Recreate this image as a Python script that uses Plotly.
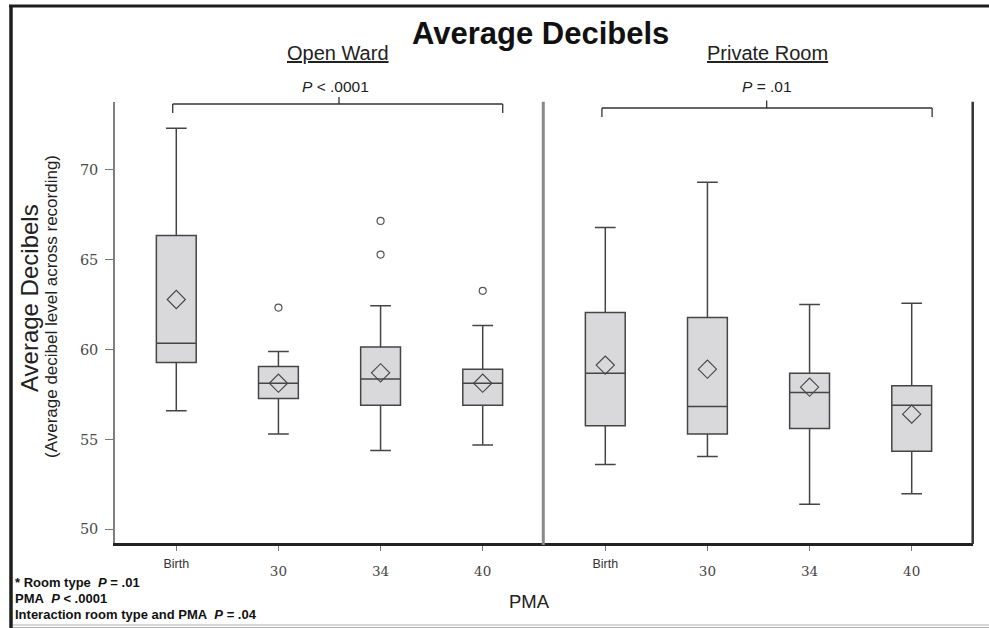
import plotly.graph_objects as go

# ---------------- data ----------------
categories = ["Birth", "30", "34", "40"]

open_q1 = [59.28, 57.28, 56.91, 56.91]
open_median = [60.36, 58.13, 58.36, 58.13]
open_q3 = [66.35, 59.06, 60.14, 58.91]
open_lower = [56.60, 55.30, 54.39, 54.69]
open_upper = [72.32, 59.90, 62.44, 61.34]
open_mean = [62.79, 58.13, 58.71, 58.13]
open_outlier_cat = ["30", "34", "34", "40"]
open_outlier_val = [62.34, 67.16, 65.29, 63.27]

private_q1 = [55.76, 55.30, 55.61, 54.35]
private_median = [58.69, 56.84, 57.62, 56.91]
private_q3 = [62.06, 61.79, 58.69, 57.99]
private_lower = [53.61, 54.06, 51.39, 51.98]
private_upper = [66.79, 69.31, 62.51, 62.58]
private_mean = [59.14, 58.91, 57.91, 56.41]

y_ticks = [50, 55, 60, 65, 70]

# ---------------- layout helpers ----------------
W, H = 989, 628
L, R, T, B = 115, 16, 102, 85
PW, PH = W - L - R, H - T - B
PANEL_GAP = 4.2
open_x = [i for i in range(len(categories))]
priv_x = [i + PANEL_GAP for i in range(len(categories))]
XR = [-0.6, 7.8]
YR = [49.24, 73.78]


def px(xp):
    return (xp - L) / PW


def py(yp):
    return (H - B - yp) / PH


BOX_FILL = "#d9d9db"
BOX_LINE = "#454545"

fig = go.Figure()

for xs, q1, med, q3, lo, up in [
    (open_x, open_q1, open_median, open_q3, open_lower, open_upper),
    (priv_x, private_q1, private_median, private_q3, private_lower, private_upper),
]:
    fig.add_trace(go.Box(
        x=xs, q1=q1, median=med, q3=q3, lowerfence=lo, upperfence=up,
        boxpoints=False, width=0.39, whiskerwidth=0.52,
        fillcolor=BOX_FILL, line=dict(color=BOX_LINE, width=1.5),
        showlegend=False, hoverinfo="skip",
    ))

# means (open diamonds)
fig.add_trace(go.Scatter(
    x=open_x + priv_x, y=open_mean + private_mean, mode="markers",
    marker=dict(symbol="diamond-open", size=14, color="#444444", line=dict(width=1.1)),
    showlegend=False, hoverinfo="skip",
))

# outliers (open circles)
fig.add_trace(go.Scatter(
    x=[open_x[categories.index(c)] for c in open_outlier_cat], y=open_outlier_val,
    mode="markers",
    marker=dict(symbol="circle-open", size=7, color="#555555", line=dict(width=1.2)),
    showlegend=False, hoverinfo="skip",
))

# dummy trace for the overlaid "Birth" label axis
fig.add_trace(go.Scatter(x=[0], y=[60], xaxis="x2", yaxis="y", mode="markers",
                         marker=dict(opacity=0), showlegend=False, hoverinfo="skip"))

num_text = categories[1:] + categories[1:]

fig.update_layout(
    width=W, height=H,
    margin=dict(l=L, r=R, t=T, b=B),
    paper_bgcolor="white", plot_bgcolor="white",
    boxmode="overlay",
    xaxis=dict(
        range=XR, showgrid=False, zeroline=False,
        tickmode="array", tickvals=open_x + priv_x,
        ticktext=[""] + num_text[:3] + [""] + num_text[3:],
        ticks="outside", ticklen=5, tickwidth=1, tickcolor="#777777",
        tickfont=dict(family="DejaVu Serif", size=13.5, color="#444444"),
        ticklabelstandoff=9,
        showline=True, linecolor="#222222", linewidth=2.5,
    ),
    xaxis2=dict(
        range=XR, overlaying="x", anchor="y", side="bottom",
        showgrid=False, zeroline=False, showline=False,
        tickmode="array", tickvals=[open_x[0], priv_x[0]],
        ticktext=[categories[0], categories[0]],
        ticks="", tickfont=dict(family="Liberation Sans, Arial", size=12.5, color="#333333"),
        ticklabelstandoff=11,
    ),
    yaxis=dict(
        range=YR, showgrid=False, zeroline=False,
        tickmode="array", tickvals=y_ticks, ticktext=[str(v) for v in y_ticks],
        ticks="outside", ticklen=8, tickwidth=1, tickcolor="#777777",
        tickfont=dict(family="DejaVu Serif", size=14.5, color="#4a4a4a"),
        ticklabelstandoff=4,
        showline=True, linecolor="#808080", linewidth=1.5,
    ),
    font=dict(family="Liberation Sans, Arial, sans-serif", color="#222222"),
)

shapes = []
# panel divider and right border
shapes.append(dict(type="line", xref="x", yref="paper", x0=3.593, x1=3.593,
                   y0=py(545), y1=py(101.7), line=dict(color="#8a8a8a", width=3)))
shapes.append(dict(type="line", xref="paper", yref="paper", x0=px(972.7), x1=px(972.7),
                   y0=py(544), y1=py(101.7), line=dict(color="#333333", width=2.5)))
# brackets
for (x0, x1, xc, yb, ytop) in [(-0.035, 3.196, 1.593, 104, 97), (4.167, 7.40, 5.78, 108, 100.5)]:
    lc = dict(color="#333333", width=1.3)
    shapes.append(dict(type="line", xref="x", yref="paper", x0=x0, x1=x1, y0=py(yb), y1=py(yb), line=lc))
    shapes.append(dict(type="line", xref="x", yref="paper", x0=x0, x1=x0, y0=py(yb), y1=py(yb + 9), line=lc))
    shapes.append(dict(type="line", xref="x", yref="paper", x0=x1, x1=x1, y0=py(yb), y1=py(yb + 9), line=lc))
    shapes.append(dict(type="line", xref="x", yref="paper", x0=xc, x1=xc, y0=py(yb), y1=py(ytop), line=lc))
# outer frame
shapes.append(dict(type="line", xref="paper", yref="paper", x0=px(9), x1=px(989), y0=py(6), y1=py(6),
                   line=dict(color="#1e1e1e", width=3)))
shapes.append(dict(type="line", xref="paper", yref="paper", x0=px(11), x1=px(11), y0=py(5), y1=py(628),
                   line=dict(color="#1e1e1e", width=3.5)))
shapes.append(dict(type="line", xref="paper", yref="paper", x0=px(13), x1=px(989), y0=py(625), y1=py(625),
                   line=dict(color="#b0b0b0", width=1)))
shapes.append(dict(type="line", xref="paper", yref="paper", x0=px(13), x1=px(989), y0=py(627.5), y1=py(627.5),
                   line=dict(color="#b0b0b0", width=1)))
fig.update_layout(shapes=shapes)

ann = []


def add_text(text, x, y, size, xanchor="center", angle=0, color="#222222"):
    ann.append(dict(text=text, x=px(x), y=py(y), xref="paper", yref="paper",
                    xanchor=xanchor, yanchor="middle", showarrow=False, textangle=angle,
                    font=dict(size=size, color=color, family="Liberation Sans, Arial, sans-serif")))


add_text("<b>Average Decibels</b>", 540, 33, 31, color="#111111")
add_text("<u>Open Ward</u>", 338, 53, 20)
add_text("<u>Private Room</u>", 767, 53, 20)
add_text("<i>P</i> < .0001", 335, 87, 15.5)
add_text("<i>P</i> = .01", 767, 87, 15.5)
add_text("Average Decibels", 29, 298, 24, angle=-90)
add_text("(Average decibel level across recording)", 51, 307, 17, angle=-90)
add_text("PMA", 529, 601, 18.5)
add_text("<b>* Room type\u00a0\u00a0<i>P</i> = .01</b>", 13, 582, 13, xanchor="left", color="#111111")
add_text("<b>PMA\u00a0\u00a0<i>P</i> < .0001</b>", 13, 598, 13, xanchor="left", color="#111111")
add_text("<b>Interaction room type and PMA\u00a0\u00a0<i>P</i> = .04</b>", 13, 614, 13, xanchor="left",
         color="#111111")
fig.update_layout(annotations=ann)

fig.write_html("out.html")
